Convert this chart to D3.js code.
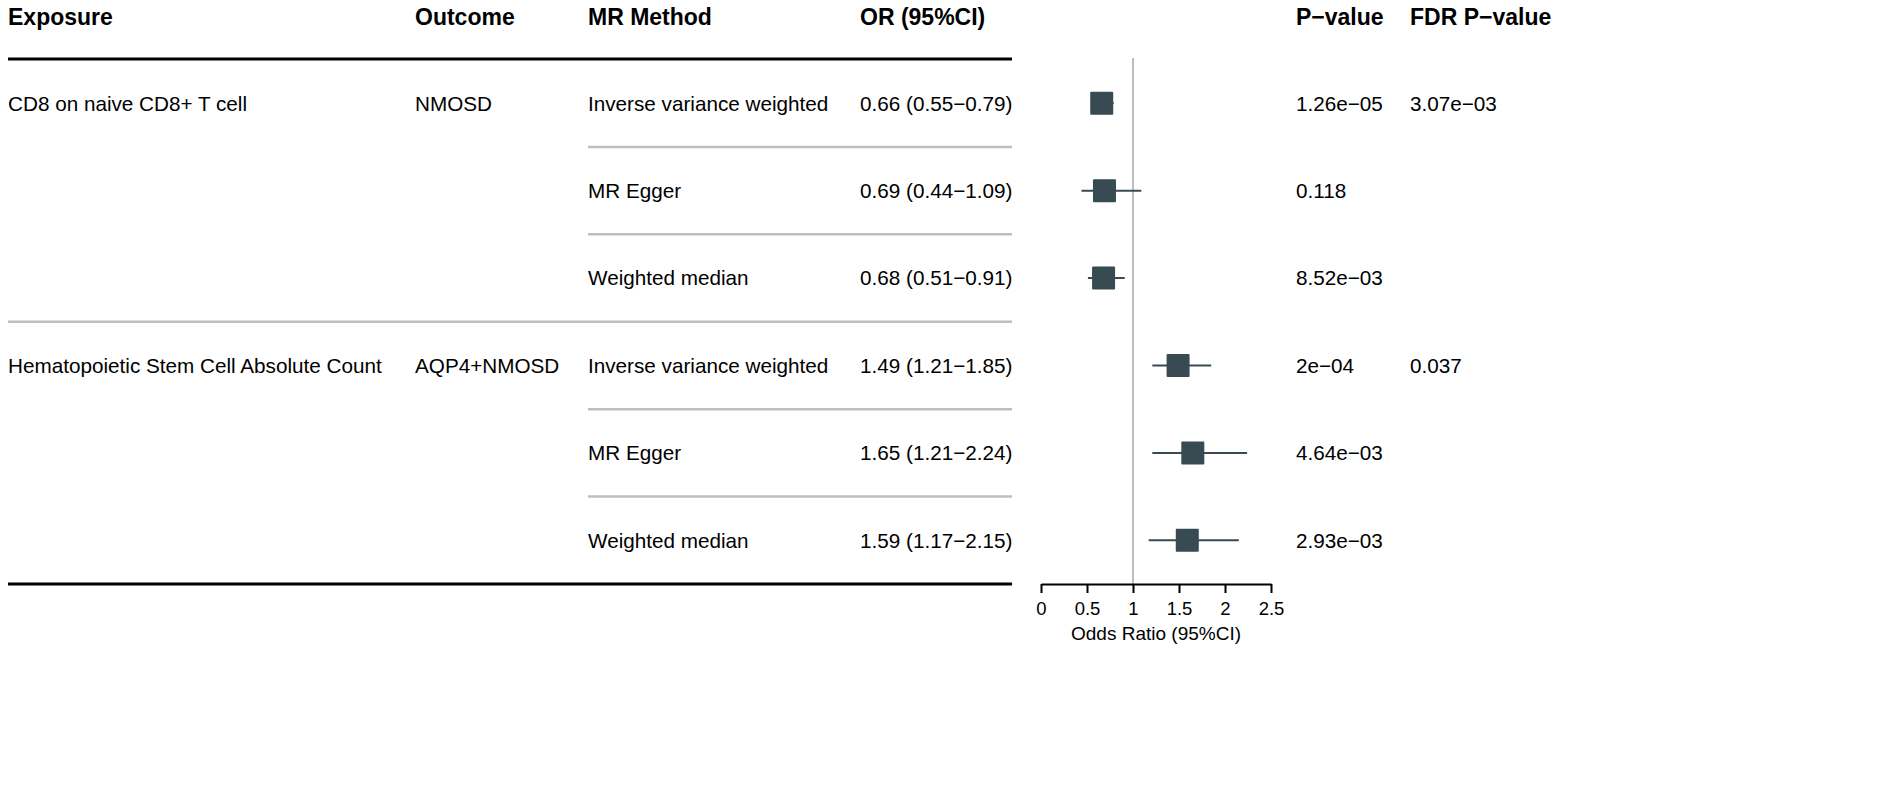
<!DOCTYPE html>
<html>
<head>
<meta charset="utf-8">
<script src="https://cdn.jsdelivr.net/npm/d3@7"></script>
<style>
  body { margin: 0; background: #fff; }
  text { font-family: 'Liberation Sans', Arial, sans-serif; fill: #000; }
</style>
</head>
<body>
<div class="chart"></div>
<script>
const headers = ['Exposure', 'Outcome', 'MR Method', 'OR (95%CI)', 'P\u2212value', 'FDR P\u2212value']
const exposures = ['CD8 on naive CD8+ T cell', '', '', 'Hematopoietic Stem Cell Absolute Count', '', '']
const outcomes = ['NMOSD', '', '', 'AQP4+NMOSD', '', '']
const methods = ['Inverse variance weighted', 'MR Egger', 'Weighted median', 'Inverse variance weighted', 'MR Egger', 'Weighted median']
const or = [0.66, 0.69, 0.68, 1.49, 1.65, 1.59]
const lower = [0.55, 0.44, 0.51, 1.21, 1.21, 1.17]
const upper = [0.79, 1.09, 0.91, 1.85, 2.24, 2.15]
const pValues = ['1.26e\u221205', '0.118', '8.52e\u221203', '2e\u221204', '4.64e\u221203', '2.93e\u221203']
const fdrValues = ['3.07e\u221203', '', '', '0.037', '', '']
const ticks = [0, 0.5, 1, 1.5, 2, 2.5]

;(function init() {
  const width = 1901
  const height = 790
  const boxColor = '#384b53'
  const fontSize = 20.7

  const colX = [8, 415, 588, 860, 1296, 1410]

  const rows = d3.range(methods.length)
  const yScale = d3.scaleBand().domain(rows).range([59.5, 584])
  const xScale = d3.scaleLinear().domain([0, 2.5]).range([1041, 1271])

  const svg = d3
    .select('.chart')
    .append('svg')
    .attr('width', width)
    .attr('height', height)

  svg.append('rect').attr('width', width).attr('height', height).attr('fill', '#fff')

  // header
  svg
    .selectAll('.header')
    .data(headers)
    .enter()
    .append('text')
    .attr('class', 'header')
    .attr('x', (d, i) => colX[i])
    .attr('y', 25)
    .style('font-size', '23px')
    .style('font-weight', 'bold')
    .text((d) => d)

  // separators
  const tableLeft = 8
  const tableRight = 1012
  rows.slice(0, -1).forEach((i) => {
    const y = yScale(i) + yScale.bandwidth()
    svg
      .append('line')
      .attr('x1', i == 2 ? tableLeft : colX[2])
      .attr('x2', tableRight)
      .attr('y1', y)
      .attr('y2', y)
      .attr('stroke', '#bebebe')
      .attr('stroke-width', 2.5)
  })

  for (const y of [59, 584]) {
    svg
      .append('line')
      .attr('x1', tableLeft)
      .attr('x2', tableRight)
      .attr('y1', y)
      .attr('y2', y)
      .attr('stroke', '#000')
      .attr('stroke-width', 3)
  }

  // table cells
  const columns = [
    exposures,
    outcomes,
    methods,
    rows.map((i) => `${or[i].toFixed(2)} (${lower[i].toFixed(2)}\u2212${upper[i].toFixed(2)})`),
    pValues,
    fdrValues
  ]

  columns.forEach((col, c) => {
    svg
      .selectAll('.col' + c)
      .data(col)
      .enter()
      .append('text')
      .attr('class', 'col' + c)
      .attr('x', colX[c])
      .attr('y', (d, i) => yScale(i) + yScale.bandwidth() / 2)
      .attr('dy', '0.36em')
      .style('font-size', fontSize + 'px')
      .text((d) => d)
  })

  // reference line at OR = 1
  svg
    .append('line')
    .attr('x1', xScale(1))
    .attr('x2', xScale(1))
    .attr('y1', 58)
    .attr('y2', 584)
    .attr('stroke', '#bdbdbd')
    .attr('stroke-width', 2)

  // CI and boxes
  const boxSize = 23
  svg
    .selectAll('.ci')
    .data(rows)
    .enter()
    .append('line')
    .attr('class', 'ci')
    .attr('x1', (i) => xScale(lower[i]))
    .attr('x2', (i) => xScale(upper[i]))
    .attr('y1', (i) => yScale(i) + yScale.bandwidth() / 2)
    .attr('y2', (i) => yScale(i) + yScale.bandwidth() / 2)
    .attr('stroke', boxColor)
    .attr('stroke-width', 2)

  svg
    .selectAll('.box')
    .data(rows)
    .enter()
    .append('rect')
    .attr('class', 'box')
    .attr('x', (i) => xScale(or[i]) - boxSize / 2)
    .attr('y', (i) => yScale(i) + yScale.bandwidth() / 2 - boxSize / 2)
    .attr('width', boxSize)
    .attr('height', boxSize)
    .attr('rx', 1)
    .attr('fill', boxColor)

  // axis
  const xAxis = d3
    .axisBottom(xScale)
    .tickValues(ticks)
    .tickSize(9)
    .tickSizeOuter(0)
    .tickPadding(9)
    .tickFormat((d) => d)

  const axis = svg
    .append('g')
    .attr('transform', 'translate(0,' + 584 + ')')
    .call(xAxis)

  axis.select('.domain').attr('stroke', '#000').attr('stroke-width', 2)
  axis.selectAll('.tick line').attr('stroke', '#000').attr('stroke-width', 2)
  axis
    .selectAll('.tick text')
    .attr('fill', '#000')
    .style('font-family', "'Liberation Sans', Arial, sans-serif")
    .style('font-size', '18.5px')

  svg
    .append('text')
    .attr('x', xScale(1.25))
    .attr('y', 640)
    .attr('text-anchor', 'middle')
    .style('font-size', '19px')
    .text('Odds Ratio (95%CI)')
})()
</script>
</body>
</html>
